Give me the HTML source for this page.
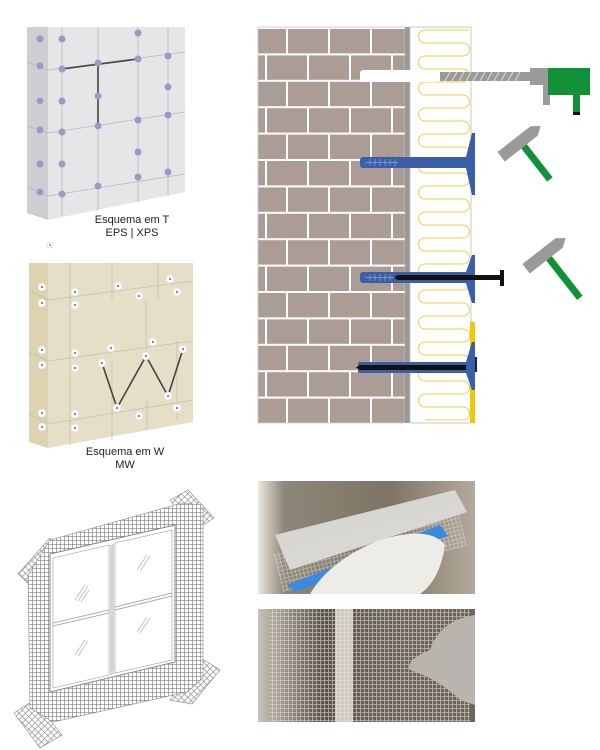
<!DOCTYPE html>
<html><head><meta charset="utf-8"><style>
html,body{margin:0;padding:0;background:#fff;}
svg{display:block;}
text{font-family:"Liberation Sans",sans-serif;}
</style></head><body>
<svg width="600" height="750" viewBox="0 0 600 750" xmlns="http://www.w3.org/2000/svg">
<defs>
<pattern id="brick" patternUnits="userSpaceOnUse" x="244" y="27" width="42" height="52.8">
<rect width="42" height="52.8" fill="#ab9c96"/>
<rect x="0" y="0" width="42" height="2" fill="#fff"/>
<rect x="0" y="26.4" width="42" height="2" fill="#fff"/>
<rect x="0" y="0" width="2" height="26.4" fill="#fff"/>
<rect x="21" y="26.4" width="2" height="26.4" fill="#fff"/>
</pattern>
<pattern id="mesh" patternUnits="userSpaceOnUse" width="4" height="4">
<rect width="4" height="4" fill="#fff"/>
<path d="M0 0.3H4M0.3 0V4" stroke="#808080" stroke-width="0.7"/>
</pattern>
<pattern id="mesh2" patternUnits="userSpaceOnUse" width="4.5" height="4.5" patternTransform="rotate(45)">
<rect width="4.5" height="4.5" fill="#fff"/>
<path d="M0 0.3H4.5M0.3 0V4.5" stroke="#8a8a8a" stroke-width="0.7"/>
</pattern>
<pattern id="pmesh" patternUnits="userSpaceOnUse" width="4" height="4">
<path d="M0 0.5H4M0.5 0V4" stroke="#ddd" stroke-width="0.8"/>
</pattern>
<linearGradient id="p1" x1="0" x2="1" y1="0" y2="0">
<stop offset="0" stop-color="#ece8e0"/><stop offset="0.12" stop-color="#8e8678"/><stop offset="0.6" stop-color="#7d7466"/><stop offset="1" stop-color="#b3aa9c"/>
</linearGradient>
<linearGradient id="p2" x1="0" x2="1" y1="0" y2="0">
<stop offset="0" stop-color="#c8c2b8"/><stop offset="0.3" stop-color="#5a5044"/><stop offset="0.55" stop-color="#6a6256"/><stop offset="1" stop-color="#6d655a"/>
</linearGradient>
</defs>

<!-- Panel T -->
<polygon points="27,27 48,27 48,220 27,213" fill="#cfcfd3"/>
<polygon points="48,27 185,27 185,192 48,220" fill="#e6e6e8"/>
<g stroke="#b8b8bc" stroke-width="0.8" fill="none">
<path d="M27,62 L48,70 L185,52"/><path d="M27,126 L48,133 L185,112"/><path d="M27,187 L48,196 L185,174"/>
<path d="M62,27V216M98,27V210M138,27V202M168,27V196"/>
</g>
<path d="M62,69 L138,59 M98,63 V126" stroke="#444" stroke-width="1.6" fill="none"/>
<g fill="#9a9ac4">
<circle cx="40" cy="39" r="3.5"/><circle cx="62" cy="39" r="3.5"/><circle cx="138" cy="33" r="3.5"/><circle cx="40" cy="66" r="3.5"/><circle cx="62" cy="69" r="3.5"/><circle cx="98" cy="63" r="3.5"/><circle cx="138" cy="59" r="3.5"/><circle cx="168" cy="56" r="3.5"/><circle cx="168" cy="87" r="3.5"/><circle cx="40" cy="101" r="3.5"/><circle cx="62" cy="101" r="3.5"/><circle cx="98" cy="96" r="3.5"/><circle cx="98" cy="126" r="3.5"/><circle cx="138" cy="120" r="3.5"/><circle cx="168" cy="115" r="3.5"/><circle cx="40" cy="130" r="3.5"/><circle cx="62" cy="132" r="3.5"/><circle cx="138" cy="152" r="3.5"/><circle cx="40" cy="164" r="3.5"/><circle cx="62" cy="164" r="3.5"/><circle cx="168" cy="172" r="3.5"/><circle cx="138" cy="177" r="3.5"/><circle cx="98" cy="186" r="3.5"/><circle cx="40" cy="192" r="3.5"/><circle cx="62" cy="194" r="3.5"/>
</g>
<text x="132" y="223" font-size="11" text-anchor="middle" fill="#222">Esquema em T</text>
<text x="132" y="236" font-size="11" text-anchor="middle" fill="#222">EPS | XPS</text>
<circle cx="50" cy="245" r="3" fill="#fff" stroke="#ccc" stroke-width="0.6"/><circle cx="50" cy="245" r="0.8" fill="#333"/>

<!-- Panel W -->
<polygon points="29,263 48,263 48,448 29,442" fill="#ddd3b0"/>
<polygon points="48,263 193,263 193,422 48,448" fill="#e4dfc6"/>
<g stroke="#c9c1a4" stroke-width="0.8" fill="none">
<path d="M29,290 L48,300 L193,281"/><path d="M29,352 L48,361 L193,341"/><path d="M29,414 L48,424 L193,400"/>
<path d="M70,263V445M112,263V300M112,361V440M146,300V361M158,263V300M177,341V420M147,400V430"/>
</g>
<path d="M102,363 L117,408 L146,356 L168,396 L183,349" stroke="#444" stroke-width="1.6" fill="none"/>
<g fill="#fff" stroke="#ddd" stroke-width="0.6">
<circle cx="42" cy="287" r="4"/><circle cx="75" cy="292" r="4"/><circle cx="118" cy="286" r="4"/><circle cx="170" cy="279" r="4"/><circle cx="177" cy="292" r="4"/><circle cx="139" cy="296" r="4"/><circle cx="42" cy="303" r="4"/><circle cx="75" cy="305" r="4"/><circle cx="153" cy="342" r="4"/><circle cx="42" cy="350" r="4"/><circle cx="75" cy="353" r="4"/><circle cx="111" cy="348" r="4"/><circle cx="183" cy="349" r="4"/><circle cx="42" cy="365" r="4"/><circle cx="75" cy="368" r="4"/><circle cx="102" cy="363" r="4"/><circle cx="146" cy="356" r="4"/><circle cx="168" cy="396" r="4"/><circle cx="117" cy="408" r="4"/><circle cx="177" cy="408" r="4"/><circle cx="139" cy="416" r="4"/><circle cx="42" cy="413" r="4"/><circle cx="75" cy="414" r="4"/><circle cx="42" cy="427" r="4"/><circle cx="75" cy="428" r="4"/>
</g>
<g fill="#333">
<circle cx="42" cy="287" r="0.9"/><circle cx="75" cy="292" r="0.9"/><circle cx="118" cy="286" r="0.9"/><circle cx="170" cy="279" r="0.9"/><circle cx="177" cy="292" r="0.9"/><circle cx="139" cy="296" r="0.9"/><circle cx="42" cy="303" r="0.9"/><circle cx="75" cy="305" r="0.9"/><circle cx="153" cy="342" r="0.9"/><circle cx="42" cy="350" r="0.9"/><circle cx="75" cy="353" r="0.9"/><circle cx="111" cy="348" r="0.9"/><circle cx="183" cy="349" r="0.9"/><circle cx="42" cy="365" r="0.9"/><circle cx="75" cy="368" r="0.9"/><circle cx="102" cy="363" r="0.9"/><circle cx="146" cy="356" r="0.9"/><circle cx="168" cy="396" r="0.9"/><circle cx="117" cy="408" r="0.9"/><circle cx="177" cy="408" r="0.9"/><circle cx="139" cy="416" r="0.9"/><circle cx="42" cy="413" r="0.9"/><circle cx="75" cy="414" r="0.9"/><circle cx="42" cy="427" r="0.9"/><circle cx="75" cy="428" r="0.9"/>
</g>
<text x="125" y="455" font-size="11" text-anchor="middle" fill="#222">Esquema em W</text>
<text x="125" y="468" font-size="11" text-anchor="middle" fill="#222">MW</text>

<!-- Brick wall -->
<rect x="258" y="27" width="147" height="396" fill="url(#brick)" stroke="#ccc" stroke-width="0.8"/>
<rect x="405" y="27" width="5" height="396" fill="#999"/>
<rect x="410" y="27" width="61" height="396" fill="#fff" stroke="#bbb" stroke-width="0.8"/>
<path d="M469,30 h-44
a6.5 6.5 0 0 0 0 13 h38 a6.5 6.5 0 0 1 0 13 h-38
a6.5 6.5 0 0 0 0 13 h38 a6.5 6.5 0 0 1 0 13 h-38
a6.5 6.5 0 0 0 0 13 h38 a6.5 6.5 0 0 1 0 13 h-38
a6.5 6.5 0 0 0 0 13 h38 a6.5 6.5 0 0 1 0 13 h-38
a6.5 6.5 0 0 0 0 13 h38 a6.5 6.5 0 0 1 0 13 h-38
a6.5 6.5 0 0 0 0 13 h38 a6.5 6.5 0 0 1 0 13 h-38
a6.5 6.5 0 0 0 0 13 h38 a6.5 6.5 0 0 1 0 13 h-38
a6.5 6.5 0 0 0 0 13 h38 a6.5 6.5 0 0 1 0 13 h-38
a6.5 6.5 0 0 0 0 13 h38 a6.5 6.5 0 0 1 0 13 h-38
a6.5 6.5 0 0 0 0 13 h38 a6.5 6.5 0 0 1 0 13 h-38
a6.5 6.5 0 0 0 0 13 h38 a6.5 6.5 0 0 1 0 13 h-38
a6.5 6.5 0 0 0 0 13 h38 a6.5 6.5 0 0 1 0 13 h-38
a6.5 6.5 0 0 0 0 13 h38 a6.5 6.5 0 0 1 0 13 h-38
a6.5 6.5 0 0 0 0 13 h38 a6.5 6.5 0 0 1 0 13 h-38
a6.5 6.5 0 0 0 0 13 h38 a6.5 6.5 0 0 1 0 13 h-38" fill="none" stroke="#e8d24a" stroke-width="1"/>
<!-- drill -->
<rect x="360" y="70" width="78" height="12" rx="3" fill="#fff"/>
<rect x="440" y="72" width="92" height="9" fill="#9a9a98"/>
<path d="M445,81 L450,72 M452,81 L457,72 M459,81 L464,72 M466,81 L471,72 M473,81 L478,72 M480,81 L485,72 M487,81 L492,72 M494,81 L499,72 M501,81 L506,72 M508,81 L513,72 M515,81 L520,72" stroke="#ddd" stroke-width="1"/>
<rect x="530" y="68" width="18" height="17" fill="#9a9a98"/>
<rect x="543" y="80" width="7" height="25" fill="#9a9a98"/>
<rect x="548" y="68" width="42" height="27" fill="#129238"/>
<rect x="573" y="94" width="7" height="20" fill="#129238"/>
<rect x="573" y="112" width="7" height="3" fill="#111"/>
<!-- dowel 1 -->
<rect x="360" y="157" width="112" height="11" rx="3" fill="#3a5ea8"/>
<path d="M466,157 L472,133 L475,133 L475,195 L472,195 L466,168Z" fill="#3a5ea8"/>
<path d="M365,162.5H398M370,159V166M375,159V166M380,159V166M385,159V166M390,159V166M395,159V166" stroke="#8aa0d0" stroke-width="0.8"/>
<!-- dowel 2 -->
<rect x="360" y="272" width="112" height="11" rx="3" fill="#3a5ea8"/>
<path d="M466,272 L472,255 L475,255 L475,303 L472,303 L466,283Z" fill="#3a5ea8"/>
<path d="M398,275 L470,275 L470,280 L398,280 L393,277.5Z" fill="#111"/>
<rect x="470" y="275" width="32" height="5" fill="#111"/>
<rect x="500" y="270" width="4" height="16" fill="#111"/>
<path d="M365,277.5H395M370,274V281M375,274V281M380,274V281M385,274V281M390,274V281" stroke="#8aa0d0" stroke-width="0.8"/>
<!-- dowel 3 -->
<rect x="470" y="322" width="5" height="101" fill="#f0c800"/>
<rect x="358" y="362" width="114" height="11" rx="2" fill="#3a5ea8"/>
<path d="M360,365 L470,365 L470,370 L360,370 L356,367.5Z" fill="#111"/>
<path d="M466,362 L472,342 L475,342 L475,390 L472,390 L466,373Z" fill="#3a5ea8"/>
<rect x="475" y="357" width="2" height="15" fill="#222"/>
<!-- hammers -->
<g transform="translate(520,142) rotate(-38)">
<rect x="-3" y="0" width="7" height="48" fill="#129238"/>
<path d="M-24,-6 L18,-6 L26,0 L18,6 L-24,6Z" fill="#9a9a98"/>
</g>
<g transform="translate(545,254) rotate(-38)">
<rect x="-3" y="0" width="7" height="56" fill="#129238"/>
<path d="M-24,-6 L18,-6 L26,0 L18,6 L-24,6Z" fill="#9a9a98"/>
</g>

<!-- Window mesh -->
<polygon points="18,574 50,538 62,548 30,585" fill="url(#mesh2)" stroke="#888" stroke-width="0.6"/>
<polygon points="170,500 188,490 214,518 195,530" fill="url(#mesh2)" stroke="#888" stroke-width="0.6"/>
<polygon points="14,713 34,700 62,735 40,748" fill="url(#mesh2)" stroke="#888" stroke-width="0.6"/>
<polygon points="170,700 198,656 220,670 192,704" fill="url(#mesh2)" stroke="#888" stroke-width="0.6"/>
<polygon points="28,575 50,540 182,503 203,505 203,678 187,692 53,722 30,708" fill="url(#mesh)" stroke="#888" stroke-width="0.6"/>
<polygon points="50,554 175,525 175,662 50,692" fill="#fff" stroke="#888" stroke-width="1"/>
<polygon points="53,558 109,545 109,675 53,688" fill="#fff" stroke="#999" stroke-width="0.6"/>
<polygon points="115,543 172,530 172,660 115,673" fill="#fff" stroke="#999" stroke-width="0.6"/>
<path d="M53,623 L109,610 M53,626 L109,613 M115,607 L172,593 M115,610 L172,596 M111,545 V675 M113,544 V674" stroke="#999" stroke-width="0.8"/>
<path d="M75,600 L85,585 M78,601 L88,586 M81,602 L89,590 M137,570 L147,555 M140,571 L150,556 M75,655 L85,640 M78,656 L88,641 M137,632 L147,617 M140,633 L150,618" stroke="#999" stroke-width="0.6"/>

<!-- Photos -->
<rect x="258" y="481" width="217" height="113" fill="url(#p1)"/>
<polygon points="275,535 455,490 467,512 290,570" fill="#d8d6d0"/>
<rect x="275" y="530" width="190" height="40" fill="url(#pmesh)" opacity="0.6" transform="rotate(-14 370 550)"/>
<polygon points="287,585 440,525 448,536 295,592" fill="#3c8ae0"/>
<path d="M310,594 Q330,560 380,540 Q430,525 445,545 Q440,580 420,594Z" fill="#eeece6"/>
<rect x="258" y="609" width="217" height="113" fill="url(#p2)"/>
<rect x="270" y="609" width="200" height="113" fill="url(#pmesh)" opacity="0.7"/>
<rect x="335" y="609" width="18" height="113" fill="#e8e6e0" opacity="0.8"/>
<path d="M475,615 Q440,620 430,650 Q405,660 410,670 Q440,680 460,700 L475,705Z" fill="#b8b4ae"/>
</svg>
</body></html>
